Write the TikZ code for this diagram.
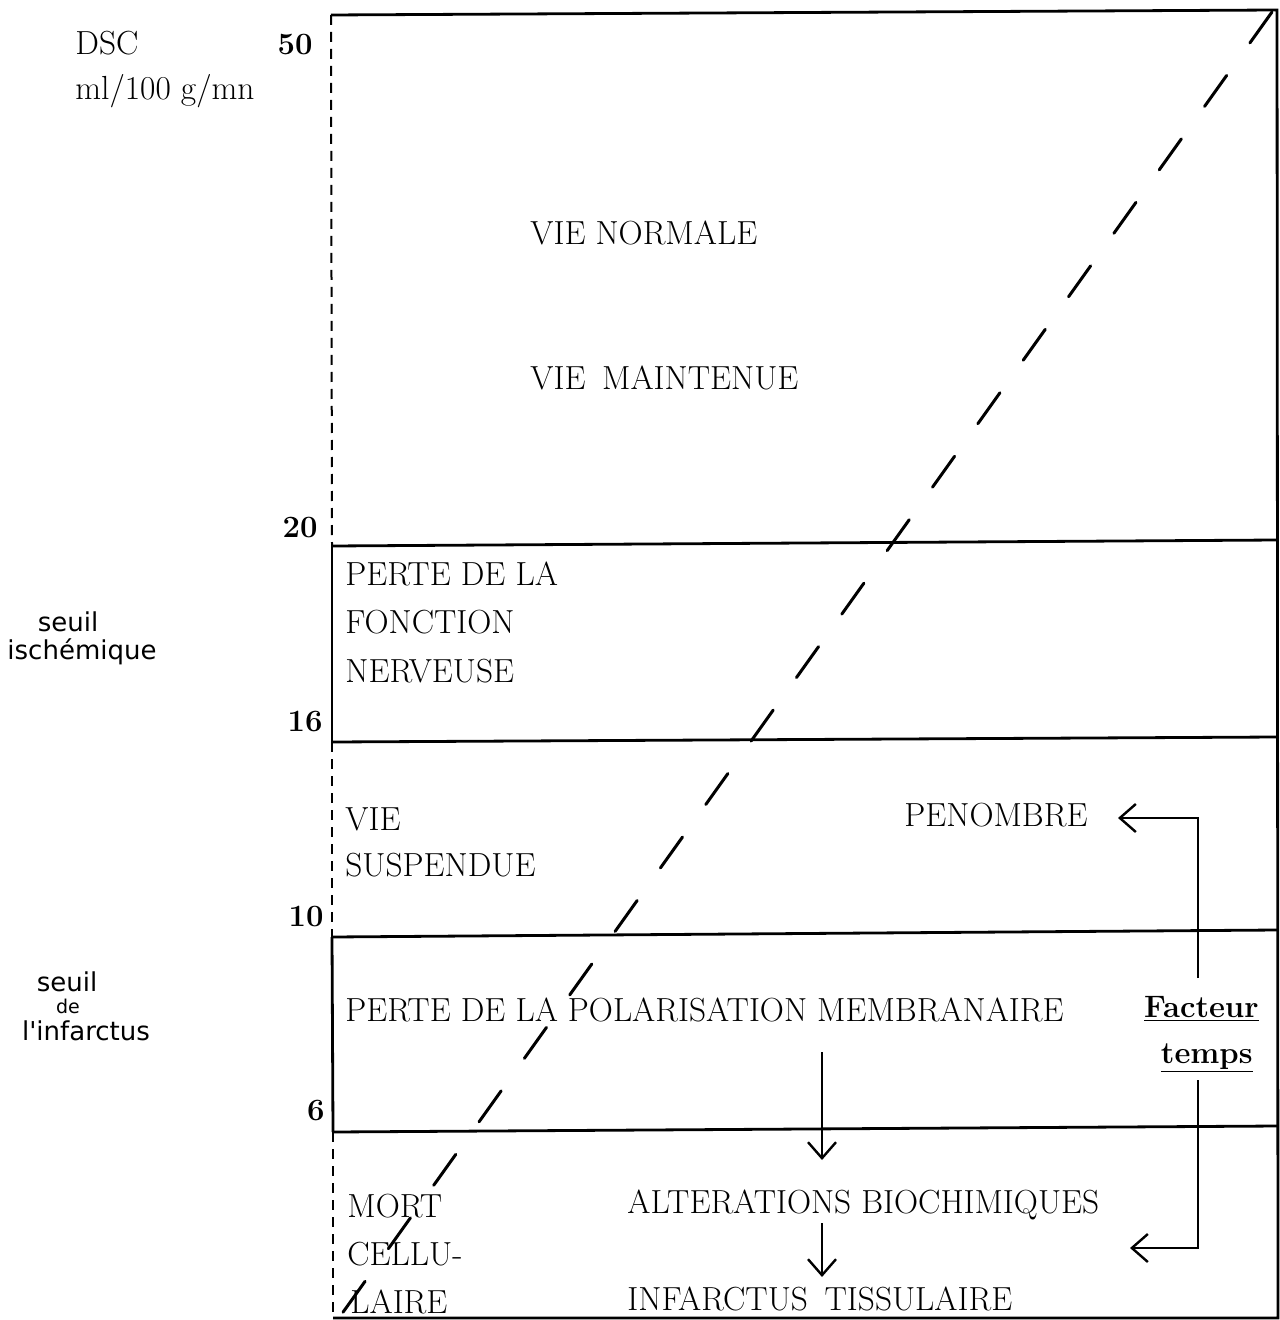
\documentclass[tikz,border=0pt]{standalone}
\usepackage{fontspec}
\newfontfamily\handfont{DejaVu Sans}
\usetikzlibrary{arrows.meta}
\begin{document}
\begin{tikzpicture}[x=0.5pt,y=-0.5pt,
  lbl/.style={inner sep=0pt, anchor=base west, font=\fontsize{16.7}{19}\selectfont},
  num/.style={inner sep=0pt, anchor=base east, font=\fontsize{15.5}{18}\selectfont\bfseries},
  hand/.style={inner sep=0pt, font=\handfont\fontsize{13}{15}\selectfont},
  handsmall/.style={inner sep=0pt, font=\handfont\fontsize{9.5}{11}\selectfont},
  frame/.style={line width=1.4pt},
  axisdash/.style={line width=1pt, dash pattern=on 5pt off 3.5pt},
  trend/.style={line width=1.5pt, line cap=round, dash pattern=on 19pt off 20pt},
  flow/.style={line width=1.2pt, -{Straight Barb[length=8pt,width=14pt,line width=1.2pt]}},
  ]
\useasboundingbox (0,0) rectangle (1279,1320);

% frame corners and level lines (flow in ml/100 g/mn)
\coordinate (tl) at (331,15);
\coordinate (tr) at (1277,10);
\coordinate (bl) at (333,1318);
\coordinate (br) at (1278,1318);
\coordinate (a1) at (332,546);  \coordinate (a2) at (1277,540);
\coordinate (b1) at (332,742);  \coordinate (b2) at (1277,737);
\coordinate (c1) at (332,937);  \coordinate (c2) at (1277,930);
\coordinate (d1) at (333,1132); \coordinate (d2) at (1277,1126);

\draw[frame] (tl) -- (tr) -- (br) -- (bl);
\draw[frame] (a1) -- (a2);
\draw[frame] (b1) -- (b2);
\draw[frame] (c1) -- (c2);
\draw[frame] (d1) -- (d2);
\draw[frame] (a1) -- (b1);
\draw[frame] (c1) -- (d1);
\draw[axisdash] (tl) -- (a1);
\draw[axisdash] (b1) -- (c1);
\draw[axisdash] (d1) -- (bl);

% time trend
\coordinate (t0) at (1272,12);
\coordinate (t1) at (336,1322);
\draw[trend] (t0) -- (t1);

% axis
\node[lbl] (dsc) at (75,55) {DSC};
\node[lbl] (unit) at (75,100) {ml/100 g/mn};
\node[num] (n50) at (313,55) {50};
\node[num] (n20) at (318,537) {20};
\node[num] (n16) at (323,731) {16};
\node[num] (n10) at (324,926) {10};
\node[num] (n6) at (325,1120) {6};

% thresholds
\node[hand] (s1a) at (68,622) {seuil};
\node[hand] (s1b) at (82,652) {ischémique};
\node[hand] (s2a) at (67,982) {seuil};
\node[handsmall] (s2b) at (68,1006) {de};
\node[hand] (s2c) at (86,1031) {l'infarctus};

% zones
\node[lbl] (normale) at (530,245) {VIE NORMALE};
\node[lbl] (maintenue) at (530,390) {VIE\hspace{0.5em}MAINTENUE};
\node[lbl] (perte1) at (345,585) {PERTE DE LA};
\node[lbl] (perte2) at (345,633) {FONCTION};
\node[lbl] (perte3) at (345,682) {NERVEUSE};
\node[lbl] (susp1) at (345,830) {VIE};
\node[lbl] (susp2) at (345,876) {SUSPENDUE};
\node[lbl] (penombre) at (904,826) {PENOMBRE};
\node[lbl] (polar) at (345,1021) {PERTE DE LA POLARISATION MEMBRANAIRE};
\node[lbl] (alter) at (627,1213) {ALTERATIONS BIOCHIMIQUES};
\node[lbl] (infarct) at (627,1310) {INFARCTUS\hspace{0.5em}TISSULAIRE};
\node[lbl] (mort1) at (347,1217) {MORT};
\node[lbl] (mort2) at (347,1265) {CELLU-};
\node[lbl] (mort3) at (350,1313) {LAIRE};
\node[num] (fact1) at (1259,1017) {\underline{Facteur}};
\node[num] (fact2) at (1253,1063) {\underline{temps}};

% cascade arrows
\coordinate (p0) at (822,1052); \coordinate (p1) at (822,1160);
\coordinate (q0) at (822,1223); \coordinate (q1) at (822,1277);
\draw[flow] (p0) -- (p1);
\draw[flow] (q0) -- (q1);

% time factor bracket
\coordinate (r0) at (1198,978);  \coordinate (r1) at (1198,818);  \coordinate (r2) at (1118,818);
\coordinate (u0) at (1198,1080); \coordinate (u1) at (1198,1248); \coordinate (u2) at (1130,1248);
\draw[flow] (r0) -- (r1) -- (r2);
\draw[flow] (u0) -- (u1) -- (u2);
\end{tikzpicture}
\end{document}
